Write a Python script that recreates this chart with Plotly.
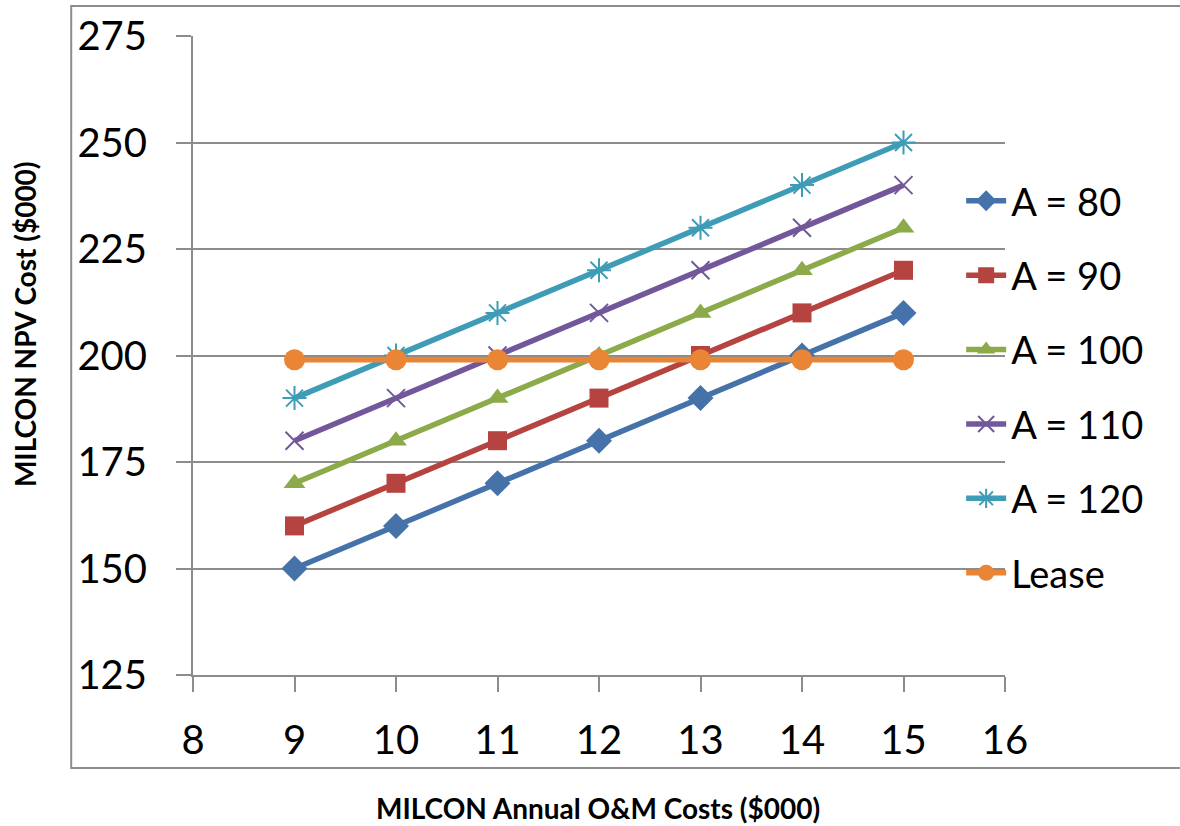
import plotly.graph_objects as go

# O&M cost levels on the x axis ($000)
om_costs = [9, 10, 11, 12, 13, 14, 15]

# MILCON NPV cost ($000) for each construction cost level
npv_a80 = [150, 160, 170, 180, 190, 200, 210]
npv_a90 = [160, 170, 180, 190, 200, 210, 220]
npv_a100 = [170, 180, 190, 200, 210, 220, 230]
npv_a110 = [180, 190, 200, 210, 220, 230, 240]
npv_a120 = [190, 200, 210, 220, 230, 240, 250]
npv_lease = [199, 199, 199, 199, 199, 199, 199]

series_names = ["A = 80", "A = 90", "A = 100", "A = 110", "A = 120", "Lease"]
series_values = [npv_a80, npv_a90, npv_a100, npv_a110, npv_a120, npv_lease]

x_ticks = [8, 9, 10, 11, 12, 13, 14, 15, 16]
y_ticks = [125, 150, 175, 200, 225, 250, 275]

colors = ["#4672AA", "#B5433F", "#8DAA4B", "#72589A", "#3F9CB6", "#E98535"]
symbols = ["diamond", "square", "triangle-up", "x-thin", "asterisk", "circle"]
sizes = [20, 19, 19, 18, 20, 21]

FONT = "Lato"

fig = go.Figure()
for name, vals, col, sym, sz in zip(series_names, series_values, colors, symbols, sizes):
    thin = sym in ("x-thin", "asterisk")
    fig.add_trace(go.Scatter(
        x=om_costs, y=vals, name=name, mode="lines+markers",
        legendgroup=name,
        line=dict(color=col, width=5.5),
        marker=dict(symbol=sym, size=sz, color=col,
                    line=dict(color=col, width=2 if thin else 0)),
    ))

# outer chart border
fig.add_shape(type="rect", xref="paper", yref="paper",
              x0=-0.150, x1=1.30, y0=-0.1455, y1=1.047,
              line=dict(color="#8C8C8C", width=2), fillcolor="rgba(0,0,0,0)",
              layer="below")

fig.add_annotation(text="<b>MILCON Annual O&M Costs ($000)</b>", xref="paper", yref="paper",
                   x=0.499, y=-0.208, showarrow=False, xanchor="center", yanchor="middle",
                   font=dict(family=FONT, size=28, color="black"))
fig.add_annotation(text="<b>MILCON NPV Cost ($000)</b>", xref="paper", yref="paper",
                   x=-0.207, y=0.549, showarrow=False, xanchor="center", yanchor="middle",
                   textangle=-90, font=dict(family=FONT, size=28, color="black"))

fig.update_layout(
    width=1180, height=826,
    margin=dict(l=193, r=175, t=36, b=151),
    paper_bgcolor="white", plot_bgcolor="white",
    font=dict(family=FONT, color="black"),
    showlegend=True,
    legend=dict(x=0.946, xanchor="left", y=0.791, yanchor="top",
                font=dict(family=FONT, size=38, color="black"),
                bgcolor="rgba(0,0,0,0)", tracegroupgap=22,
                itemwidth=40),
)
fig.update_xaxes(
    range=[8, 16], tickvals=x_ticks, ticktext=[str(v) for v in x_ticks],
    showgrid=False, zeroline=False,
    showline=True, linecolor="#8C8C8C", linewidth=2,
    ticks="outside", ticklen=15, tickwidth=2, tickcolor="#8C8C8C",
    tickfont=dict(family=FONT, size=40, color="black"),
    ticklabelstandoff=14,
)
fig.update_yaxes(
    range=[125, 275], tickvals=y_ticks, ticktext=[str(v) for v in y_ticks],
    showgrid=True, gridcolor="#8C8C8C", gridwidth=2, zeroline=False,
    showline=True, linecolor="#8C8C8C", linewidth=2,
    ticks="outside", ticklen=15, tickwidth=2, tickcolor="#8C8C8C",
    tickfont=dict(family=FONT, size=40, color="black"),
    ticklabelstandoff=21,
)

fig.write_html("out.html")
